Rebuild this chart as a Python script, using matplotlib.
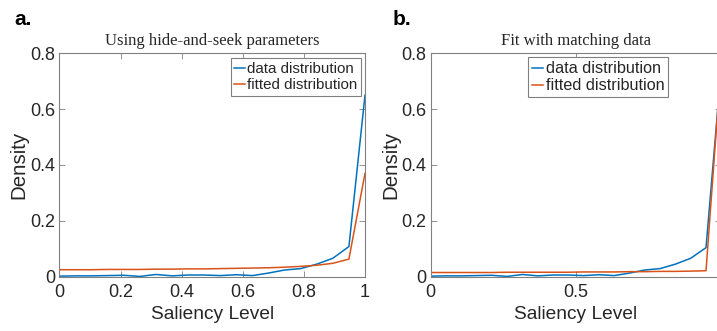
import matplotlib
matplotlib.use("Agg")
import matplotlib.pyplot as plt
import numpy as np

plt.rcParams['font.family'] = ['Liberation Sans', 'DejaVu Sans']

# data
x_bins = [i / 19 for i in range(20)]
data_a = [0.002, 0.003, 0.003, 0.004, 0.005, 0.001, 0.008, 0.003, 0.006, 0.006,
          0.004, 0.007, 0.004, 0.013, 0.024, 0.029, 0.045, 0.066, 0.108, 0.65]
fit_a = [0.025, 0.025, 0.025, 0.026, 0.026, 0.026, 0.027, 0.027, 0.028, 0.028,
         0.029, 0.030, 0.031, 0.032, 0.034, 0.037, 0.041, 0.048, 0.063, 0.37]
data_b = [0.002, 0.003, 0.003, 0.004, 0.005, 0.001, 0.008, 0.003, 0.006, 0.006,
          0.004, 0.007, 0.004, 0.013, 0.024, 0.029, 0.045, 0.066, 0.104, 0.75]
fit_b = [0.015, 0.015, 0.015, 0.015, 0.015, 0.016, 0.016, 0.016, 0.016, 0.016,
         0.017, 0.017, 0.017, 0.018, 0.018, 0.019, 0.019, 0.020, 0.0215, 0.77]

titles = ["Using hide-and-seek parameters", "Fit with matching data"]
panel_labels = ["a.", "b."]
xticks_a = [0, 0.2, 0.4, 0.6, 0.8, 1]
xticklabels_a = ["0", "0.2", "0.4", "0.6", "0.8", "1"]
xticks_b = [0, 0.5, 1]
xticklabels_b = ["0", "0.5", "1"]
yticks = [0, 0.2, 0.4, 0.6, 0.8]
yticklabels = ["0", "0.2", "0.4", "0.6", "0.8"]
series_names = ["data distribution", "fitted distribution"]

W, H = 717, 331
fig = plt.figure(figsize=(W / 100, H / 100), dpi=100)

blue = "#0072BD"
orange = "#D95319"
axcol = "#808080"
txtcol = "#262626"


def make_ax(left, right, top, bottom):
    return fig.add_axes([left / W, 1 - bottom / H, (right - left) / W, (bottom - top) / H])


axa = make_ax(59.5, 365, 53.3, 276.7)
axb = make_ax(430.7, 721.3, 53.3, 276.7)

panels = [
    (axa, data_a, fit_a, xticks_a, xticklabels_a, (230.7, 58.3), 10.9),
    (axb, data_b, fit_b, xticks_b, xticklabels_b, (527.7, 57.3), 11.7),
]
for i, (ax, d, f, xt, xtl, legpos, lfs) in enumerate(panels):
    ax.plot(x_bins, d, color=blue, lw=1.1, label=series_names[0])
    ax.plot(x_bins, f, color=orange, lw=1.1, label=series_names[1])
    ax.set_xlim(0, 1)
    ax.set_ylim(0, 0.8)
    ax.set_xticks(xt)
    ax.set_xticklabels(xtl)
    ax.set_yticks(yticks)
    ax.set_yticklabels(yticklabels)
    ax.tick_params(direction='in', top=True, right=True, length=4, width=0.6,
                   color=axcol, labelsize=13, labelcolor=txtcol)
    ax.tick_params(axis='x', pad=5)
    ax.tick_params(axis='y', pad=3)
    for s in ax.spines.values():
        s.set_color(axcol)
        s.set_linewidth(0.8)
    ax.set_xlabel("Saliency Level", fontsize=13.8, color=txtcol, labelpad=3.5)
    ax.set_ylabel("Density", fontsize=14.8, color=txtcol, labelpad=1)
    ax.set_title(titles[i], fontsize=12, family='Liberation Serif', color=txtcol, pad=6)
    leg = ax.legend(loc='upper left', bbox_to_anchor=(legpos[0] / W, 1 - legpos[1] / H),
                    bbox_transform=fig.transFigure, fontsize=lfs, handlelength=0.7,
                    handletextpad=0.15, borderpad=0.25, labelspacing=0.12,
                    borderaxespad=0, fancybox=False, framealpha=1)
    leg.get_frame().set_edgecolor(axcol)
    leg.get_frame().set_linewidth(0.8)
    for t in leg.get_texts():
        t.set_color(txtcol)

fig.text(14 / W, 1 - 25 / H, panel_labels[0], fontsize=15, fontweight='bold', color='black')
fig.text(393 / W, 1 - 25 / H, panel_labels[1], fontsize=15, fontweight='bold', color='black')

fig.savefig("out.png", dpi=100)
